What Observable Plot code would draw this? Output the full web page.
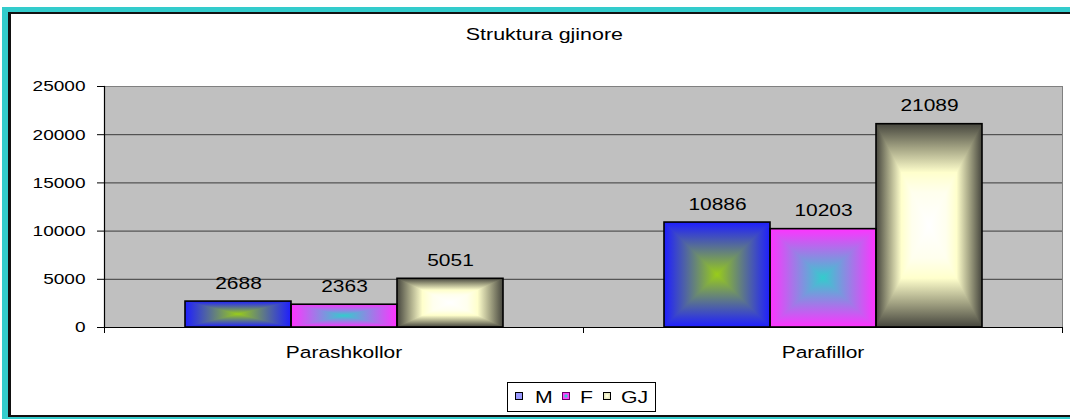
<!DOCTYPE html>
<html><head><meta charset="utf-8">
<script src="https://cdn.jsdelivr.net/npm/d3@7"></script>
<script src="https://cdn.jsdelivr.net/npm/@observablehq/plot@0.6"></script>
<style>
html,body{margin:0;padding:0;background:#fff;font-family:"Liberation Sans",Arial,sans-serif;color:#000;}
#page{position:absolute;left:0;top:0;width:1070px;height:419px;overflow:hidden;background:#fff;}
.abs{position:absolute;box-sizing:border-box;}
#frameOuter{left:2px;top:7px;width:1068px;height:416px;background:#fff;border-left:6px solid #33cccc;border-top:5px solid #33cccc;border-bottom:6px solid #33cccc;}
#frameInner{left:8px;top:12px;width:1062px;height:405px;background:#fff;border-left:3px solid #111;border-top:2px solid #111;border-bottom:2px solid #111;}
#title{left:0;top:26px;width:1089px;text-align:center;font-size:17px;line-height:17px;white-space:nowrap;}
#title span{display:inline-block;transform:scaleX(1.26);}
#chart{left:0;top:60px;}
#legend{left:507px;top:382px;width:149px;height:30px;border:1px solid #000;background:#fff;}
#legend .sw{position:absolute;top:9px;}
#legend .lt{position:absolute;top:6px;font-size:17px;line-height:17px;transform:scaleX(1.25);transform-origin:left center;white-space:nowrap;}
</style></head>
<body>
<div id="page">
<div id="frameOuter" class="abs"></div><div id="frameInner" class="abs"></div>
<svg width="0" height="0" style="position:absolute;left:0;top:0">
<defs>
  <linearGradient id="gh-M" x1="0.5" y1="0" x2="1" y2="0" spreadMethod="reflect"><stop offset="0" stop-color="#99cc1a"/><stop offset="1" stop-color="#1e1eff"/></linearGradient>
  <linearGradient id="gv-M" x1="0" y1="0.5" x2="0" y2="1" spreadMethod="reflect"><stop offset="0" stop-color="#99cc1a"/><stop offset="1" stop-color="#1e1eff"/></linearGradient>
  <linearGradient id="gh-F" x1="0.5" y1="0" x2="1" y2="0" spreadMethod="reflect"><stop offset="0" stop-color="#33cccc"/><stop offset="1" stop-color="#ff33ff"/></linearGradient>
  <linearGradient id="gv-F" x1="0" y1="0.5" x2="0" y2="1" spreadMethod="reflect"><stop offset="0" stop-color="#33cccc"/><stop offset="1" stop-color="#ff33ff"/></linearGradient>
  <linearGradient id="gh-GJ" x1="0.5" y1="0" x2="1" y2="0" spreadMethod="reflect"><stop offset="0" stop-color="#ffffff"/><stop offset="0.32" stop-color="#ffffee"/><stop offset="0.52" stop-color="#ffffcc"/><stop offset="0.76" stop-color="#a4a484"/><stop offset="1" stop-color="#46463e"/></linearGradient>
  <linearGradient id="gv-GJ" x1="0" y1="0.5" x2="0" y2="1" spreadMethod="reflect"><stop offset="0" stop-color="#ffffff"/><stop offset="0.32" stop-color="#ffffee"/><stop offset="0.52" stop-color="#ffffcc"/><stop offset="0.76" stop-color="#a4a484"/><stop offset="1" stop-color="#46463e"/></linearGradient>
  <clipPath id="hourglass" clipPathUnits="objectBoundingBox"><path d="M0,0 L1,0 L0.5,0.5 Z M0,1 L1,1 L0.5,0.5 Z"/></clipPath>
</defs>
</svg>
<div id="title" class="abs"><span>Struktura gjinore</span></div>
<div id="chart" class="abs"></div>
<div id="legend" class="abs"></div>
</div>
<script>
// ---- data ----
const categories = ["Parashkollor", "Parafillor"];
const series = ["M", "F", "GJ"];
const valuesM = [2688, 10886];
const valuesF = [2363, 10203];
const valuesGJ = [5051, 21089];
const yTicks = [0, 5000, 10000, 15000, 20000, 25000];
const gridTicks = [5000, 10000, 15000, 20000];

const seriesValues = {M: valuesM, F: valuesF, GJ: valuesGJ};
const data = [];
categories.forEach((c, i) => series.forEach(s => data.push({cat: c, series: s, value: seriesValues[s][i]})));

// ---- layout ----
const W = 1070, H = 320, ML = 104, MR = 8, MT = 26, MB = 53;
const bw = (W - ML - MR) / categories.length;
const TEXT_SX = 1.27;
const font = "'Liberation Sans', Arial, sans-serif";

let plot;
try {
  plot = Plot.plot({
    width: W, height: H, marginLeft: ML, marginRight: MR, marginTop: MT, marginBottom: MB,
    style: {fontFamily: font, color: "#000", background: "transparent", overflow: "visible"},
    fx: {domain: categories, padding: 0, label: null},
    x: {domain: series, paddingInner: 0, paddingOuter: 0.745, axis: null},
    y: {domain: [0, 25000], label: null},
    color: {domain: series, range: series.map(s => `url(#gh-${s})`)},
    marks: [
      Plot.frame({facet: "super", fill: "#c0c0c0", stroke: "#808080"}),
      Plot.gridY(gridTicks, {stroke: "#3a3a3a", strokeOpacity: 1}),
      Plot.barY(data, {fx: "cat", x: "series", y: "value", fill: "series"}),
      Plot.barY(data, {fx: "cat", x: "series", y: "value", fill: "series"}),
      Plot.barY(data, {fx: "cat", x: "series", y: "value", fill: "none", stroke: "#000", strokeWidth: 1.6}),
      Plot.ruleY([0], {stroke: "#000", strokeWidth: 1.2}),
      Plot.frame({facet: "super", anchor: "left", stroke: "#000", strokeWidth: 1.2}),
      Plot.text(data, {fx: "cat", x: "series", y: "value", text: d => String(d.value), lineAnchor: "bottom", dy: -13, fontSize: 16.5, fill: "#000"}),
      Plot.axisY(yTicks, {tickSize: 7, tickPadding: 12, fontSize: 15, label: null, stroke: "#000", fill: "#000", tickFormat: d => String(d)}),
      Plot.axisFx({anchor: "bottom", tickSize: 0, tickPadding: 19, fontSize: 16.5, label: null, fill: "#000"}),
      Plot.axisFx({anchor: "bottom", tickSize: 6, tickFormat: () => "", label: null, dx: -bw / 2, stroke: "#000"}),
      Plot.axisFx([categories[categories.length - 1]], {anchor: "bottom", tickSize: 6, tickFormat: () => "", label: null, dx: bw / 2, stroke: "#000"})
    ]
  });
} catch (e) {
  document.body.insertAdjacentHTML("beforeend", `<pre style="position:absolute;top:0;left:20px;color:red">${e}</pre>`);
  throw e;
}
document.getElementById("chart").appendChild(plot);

// box-gradient overlay: second bar layer uses vertical gradients clipped to the top/bottom triangles
const barGroups = plot.querySelectorAll('g[aria-label="bar"]');
if (barGroups.length >= 2) {
  barGroups[1].querySelectorAll("rect").forEach(r => {
    const f = r.getAttribute("fill") || "";
    r.setAttribute("fill", f.replace("#gh-", "#gv-"));
    r.setAttribute("clip-path", "url(#hourglass)");
  });
}

// horizontally stretched text, as in the reference (scale about each text's anchor x)
function firstLen(list) {
  try { return list && list.baseVal && list.baseVal.numberOfItems ? list.baseVal.getItem(0).value : 0; }
  catch (e) { return 0; }
}
plot.querySelectorAll("text").forEach(t => {
  const ax = firstLen(t.x) + firstLen(t.dx);
  const tr = t.getAttribute("transform") || "";
  t.setAttribute("transform", `${tr} translate(${ax},0) scale(${TEXT_SX},1) translate(${-ax},0)`.trim());
});

// legend
const legend = document.getElementById("legend");
const swLeft = [7, 54, 95], txLeft = [27, 72, 113];
const swatch = {
  M: `<rect x="0.5" y="0.5" width="7" height="7" fill="#9999ff" stroke="#000"/>`,
  F: `<rect x="0.5" y="0.5" width="7" height="7" fill="#ff44ff" stroke="#660066"/><rect x="2.5" y="2.5" width="3" height="3" fill="#33cccc"/>`,
  GJ: `<rect x="0.5" y="0.5" width="7" height="7" fill="#e8e8c0" stroke="#000"/><rect x="2.5" y="2.5" width="3" height="3" fill="#ffffdd"/>`
};
series.forEach((s, i) => {
  legend.insertAdjacentHTML("beforeend",
    `<svg class="sw" width="8" height="8" style="left:${swLeft[i]}px">${swatch[s]}</svg><span class="lt" style="left:${txLeft[i]}px">${s}</span>`);
});
</script>
</body></html>
